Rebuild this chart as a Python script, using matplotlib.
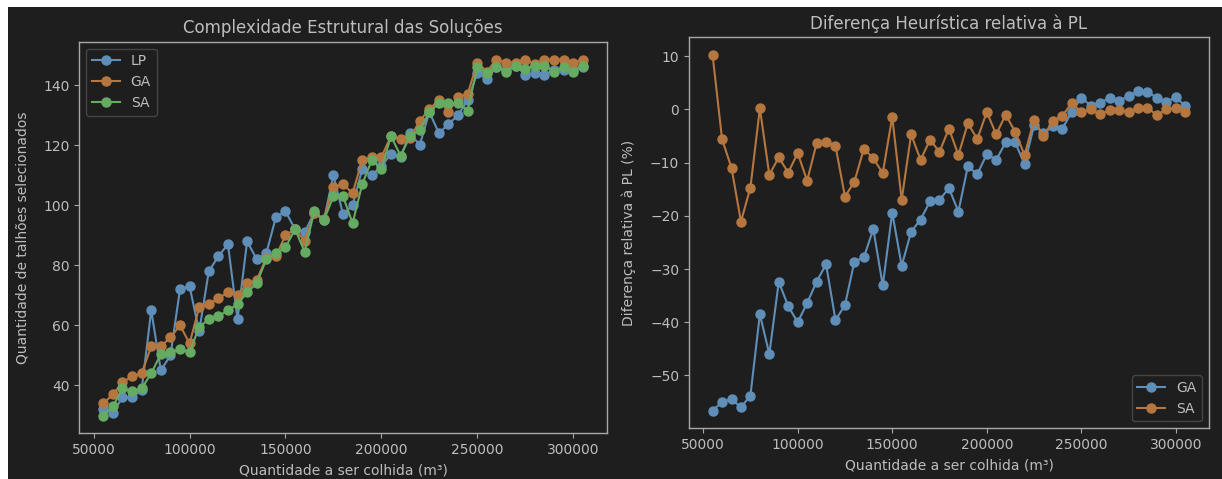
import numpy as np
import matplotlib
matplotlib.use('Agg')
import matplotlib.pyplot as plt
from matplotlib.patches import Rectangle

# --Data--
quantidade = list(range(55000, 305001, 5000))

lp = [32, 31, 36, 36, 38.5, 65, 45, 50, 72, 73,
      58, 78, 83, 87, 62, 88, 82, 84, 96, 98,
      92, 91, 97.5, 95, 110, 97, 100, 112, 110, 113,
      117, 116, 124, 120, 131, 124, 127, 130, 135, 144,
      142, 146, 145, 146.5, 143.5, 144, 143.5, 145, 145, 145,
      146]
ga = [34, 37, 41, 43, 44, 53, 53, 56, 60, 54,
      66, 67, 69, 71, 70, 74, 75, 82.5, 83, 90,
      92, 88, 97.5, 95.5, 106, 107, 104, 115, 116, 116,
      123, 122, 122.5, 128, 132, 135, 131, 136, 137, 147.5,
      144.5, 148.5, 147.5, 147.5, 148.5, 147, 148.5, 148.5, 148.5, 147.5,
      148.5]
sa = [30, 33, 39, 38, 39, 44, 50.5, 51, 52, 51,
      59.5, 62, 63, 65, 67, 71, 74, 82, 84, 86,
      92, 84.5, 98, 95, 103, 103, 94, 107, 115, 112,
      123, 116.5, 123, 125, 131, 134, 134, 134, 131.5, 146,
      144, 146, 144.5, 146.5, 145.5, 146.5, 146.5, 144.5, 146, 144.5,
      146.5]

diff_ga = [-56.6, -55.0, -54.4, -56.0, -53.8, -38.5, -46.0, -32.4, -37.0, -40.0,
           -36.4, -32.4, -29.1, -39.6, -36.8, -28.6, -27.8, -22.5, -33.1, -19.4,
           -29.4, -23.0, -20.7, -17.3, -17.0, -14.8, -19.2, -10.7, -12.2, -8.4,
           -9.5, -6.2, -6.2, -10.3, -3.0, -4.5, -3.2, -3.6, -0.5, 2.2,
           0.7, 1.2, 2.2, 1.6, 2.5, 3.4, 3.3, 2.2, 1.4, 2.3,
           0.6]
diff_sa = [10.2, -5.6, -11.0, -21.1, -14.7, 0.2, -12.3, -9.0, -11.9, -8.2,
           -13.4, -6.4, -6.2, -6.9, -16.4, -13.6, -7.4, -9.2, -12.0, -1.4,
           -17.0, -4.7, -9.5, -5.7, -8.0, -3.6, -8.6, -2.6, -5.6, -0.5,
           -4.7, -1.0, -4.2, -8.6, -2.0, -5.0, -2.2, -1.2, 1.2, -0.5,
           0.0, -0.9, -0.1, -0.1, -0.5, 0.2, 0.3, -1.1, 0.0, 0.2,
           -0.5]

# --Style--
bg = '#1e1e1e'
fg = '#bdbdbd'
spine_col = '#a8a8a8'
blue = '#5f8fb8'
orange = '#b5773f'
green = '#66ab62'

plt.rcParams['font.family'] = ['DejaVu Sans']
plt.rcParams['text.color'] = fg
plt.rcParams['axes.labelcolor'] = fg
plt.rcParams['xtick.color'] = spine_col
plt.rcParams['ytick.color'] = spine_col
plt.rcParams['xtick.labelcolor'] = fg
plt.rcParams['ytick.labelcolor'] = fg

fig = plt.figure(figsize=(12.22, 4.79), dpi=100, facecolor='white')
# dark canvas, with the thin white strip of the screenshot on top and left
fig.patches.append(Rectangle((8 / 1222, 0), 1, 1 - 7 / 479, transform=fig.transFigure,
                             facecolor=bg, edgecolor='none', zorder=-10))

ax1 = fig.add_axes([0.0649, 0.0954, 0.4316, 0.8175])
ax2 = fig.add_axes([0.5638, 0.1058, 0.4255, 0.8163])


def style_axes(ax):
    ax.set_facecolor(bg)
    for s in ax.spines.values():
        s.set_color(spine_col)
        s.set_linewidth(1.0)


line_kw = dict(marker='o', markersize=6.5, linewidth=1.5)

# --Left: number of stands selected--
style_axes(ax1)
ax1.plot(quantidade, lp, color=blue, label='LP', **line_kw)
ax1.plot(quantidade, ga, color=orange, label='GA', **line_kw)
ax1.plot(quantidade, sa, color=green, label='SA', **line_kw)
ax1.set_title('Complexidade Estrutural das Soluções', fontsize=12, color=fg)
ax1.set_xlabel('Quantidade a ser colhida (m³)', labelpad=5)
ax1.set_ylabel('Quantidade de talhões selecionados', labelpad=10)
ax1.set_xticks([50000, 100000, 150000, 200000, 250000, 300000])
ax1.set_yticks([40, 60, 80, 100, 120, 140])
leg1 = ax1.legend(loc='upper left', facecolor=bg, edgecolor='#444444', framealpha=1)
for t in leg1.get_texts():
    t.set_color(fg)

# --Right: difference relative to LP--
style_axes(ax2)
ax2.plot(quantidade, diff_ga, color=blue, label='GA', **line_kw)
ax2.plot(quantidade, diff_sa, color=orange, label='SA', **line_kw)
ax2.set_title('Diferença Heurística relativa à PL', fontsize=12, color=fg)
ax2.set_xlabel('Quantidade a ser colhida (m³)', labelpad=5)
ax2.set_ylabel('Diferença relativa à PL (%)', labelpad=10)
ax2.set_xticks([50000, 100000, 150000, 200000, 250000, 300000])
ax2.set_yticks([-50, -40, -30, -20, -10, 0, 10])
leg2 = ax2.legend(loc='lower right', facecolor=bg, edgecolor='#444444', framealpha=1)
for t in leg2.get_texts():
    t.set_color(fg)

fig.savefig('out.png', dpi=100, facecolor=fig.get_facecolor())
